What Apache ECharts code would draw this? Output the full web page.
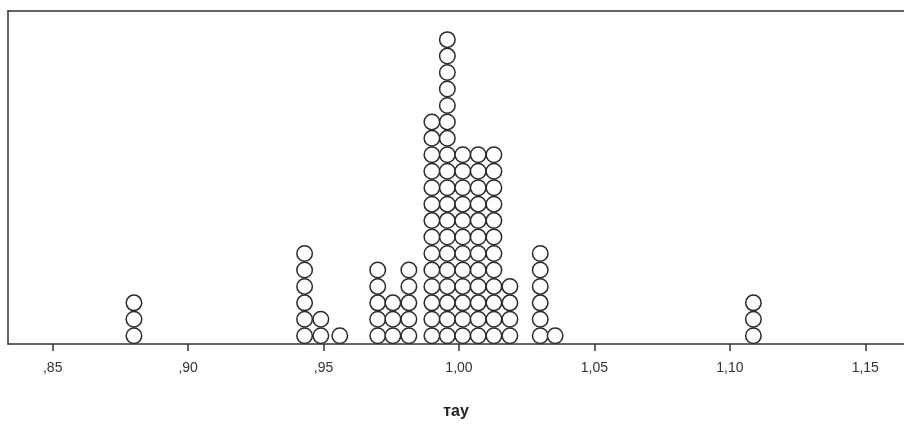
<!DOCTYPE html>
<html>
<head>
<meta charset="utf-8">
<script src="https://cdn.jsdelivr.net/npm/echarts@6/dist/echarts.min.js"></script>
<style>
  html, body { margin: 0; padding: 0; background: #fff; }
  #chart { width: 904px; height: 425px; }
</style>
</head>
<body>
<div id="chart"></div>
<script>
// bin centres of the dot columns and the number of dots in each column
var binValues = [0.880, 0.943, 0.949, 0.956, 0.970, 0.9756, 0.9815, 0.990, 0.9957, 1.0014, 1.0071, 1.0129, 1.0188, 1.030, 1.0355, 1.1087];
var binCounts = [3, 6, 2, 1, 5, 3, 5, 14, 19, 12, 12, 12, 4, 6, 1, 3];
var tickValues = [0.85, 0.90, 0.95, 1.00, 1.05, 1.10, 1.15];
var axisTitle = "тау";

// stack dots: k-th dot of a column sits at height k - 0.5
var points = [];
binValues.forEach(function (v, i) {
  for (var k = 1; k <= binCounts[i]; k++) {
    points.push([v, k - 0.5]);
  }
});

function fmt(v) {
  return v.toFixed(2).replace(".", ",").replace(/^0/, "");
}

var frameLine = { show: true, lineStyle: { color: "#333", width: 1.5 } };

var chart = echarts.init(document.getElementById("chart"));
chart.setOption({
  animation: false,
  backgroundColor: "#fff",
  grid: {
    left: 8,
    right: -4,
    top: 11,
    bottom: 74,
  },
  xAxis: [
    {
      type: "value",
      min: 0.8335,
      max: 1.1643,
      splitLine: { show: false },
      axisLine: frameLine,
      axisTick: {
        show: true,
        length: 7,
        customValues: tickValues,
        lineStyle: { color: "#333", width: 1.5 },
      },
      axisLabel: {
        customValues: tickValues,
        formatter: fmt,
        color: "#333",
        fontSize: 14,
        fontFamily: "Liberation Sans, Arial, sans-serif",
        margin: 17,
      },
      name: axisTitle,
      nameLocation: "middle",
      nameGap: 60,
      nameTextStyle: {
        color: "#222",
        fontSize: 16,
        fontWeight: "bold",
        fontFamily: "Liberation Sans, Arial, sans-serif",
      },
    },
    {
      // top frame line only
      type: "value",
      position: "top",
      min: 0.8335,
      max: 1.1643,
      axisLine: frameLine,
      axisTick: { show: false },
      axisLabel: { show: false },
      splitLine: { show: false },
    },
  ],
  yAxis: {
    type: "value",
    min: 0,
    max: 20.24,
    axisLine: frameLine,
    axisTick: { show: false },
    axisLabel: { show: false },
    splitLine: { show: false },
  },
  series: [
    {
      type: "scatter",
      data: points,
      symbol: "circle",
      symbolSize: 15.5,
      itemStyle: {
        color: "#fff",
        borderColor: "#2a2a2a",
        borderWidth: 1.5,
        opacity: 1,
      },
    },
  ],
});
</script>
</body>
</html>
